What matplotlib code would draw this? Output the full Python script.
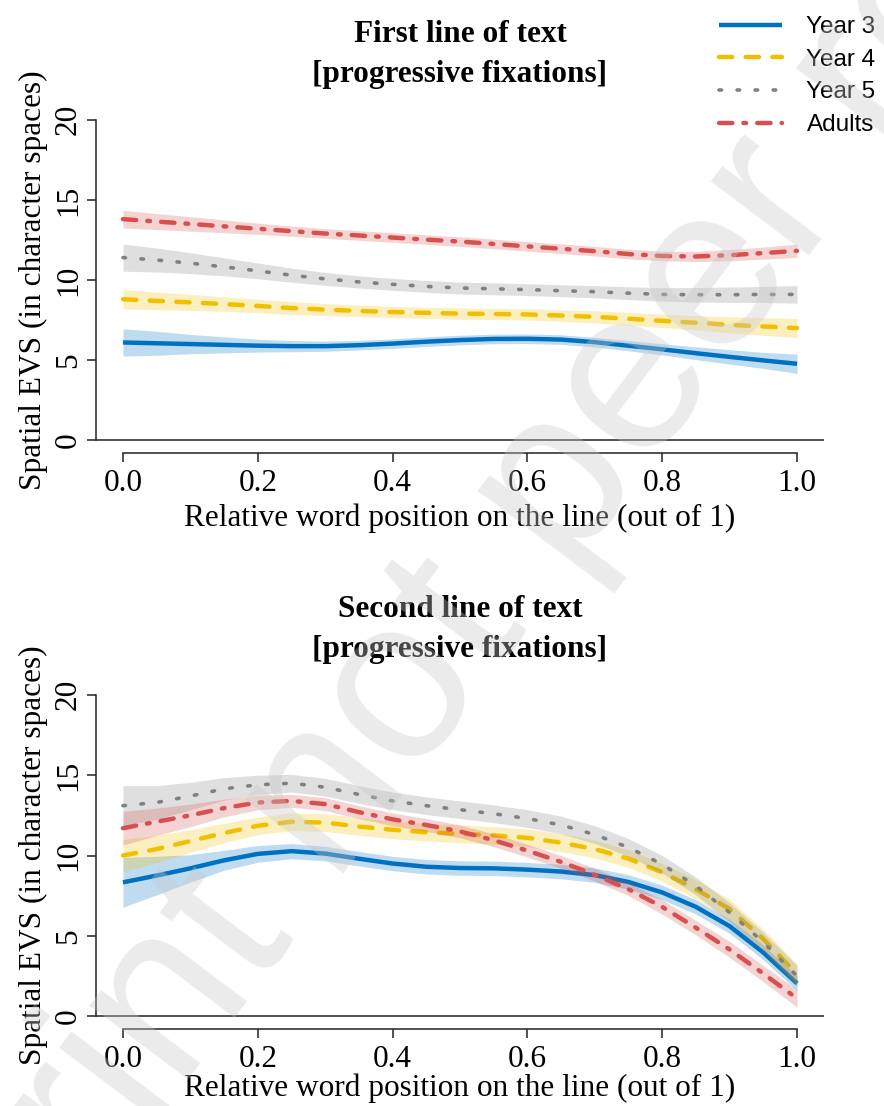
import matplotlib
matplotlib.use("Agg")
import matplotlib.pyplot as plt
import numpy as np

# relative word position on the line
pos = [0.0, 0.05, 0.1, 0.15, 0.2, 0.25, 0.3, 0.35, 0.4, 0.45, 0.5,
       0.55, 0.6, 0.65, 0.7, 0.75, 0.8, 0.85, 0.9, 0.95, 1.0]

groups = ["Year 3", "Year 4", "Year 5", "Adults"]

# first line of text: fitted spatial EVS and half-width of the band
line1_y3 = [6.1, 6.05, 6.0, 5.95, 5.9, 5.87, 5.87, 5.93, 6.03, 6.15, 6.25,
            6.32, 6.33, 6.28, 6.12, 5.9, 5.67, 5.43, 5.2, 4.98, 4.77]
line1_y3_ci = [0.85, 0.75, 0.6, 0.5, 0.4, 0.35, 0.32, 0.3, 0.3, 0.3, 0.3,
               0.3, 0.3, 0.3, 0.3, 0.32, 0.35, 0.4, 0.45, 0.5, 0.6]
line1_y4 = [8.8, 8.7, 8.6, 8.5, 8.38, 8.25, 8.15, 8.07, 8.0, 7.95, 7.9,
            7.88, 7.85, 7.78, 7.7, 7.58, 7.45, 7.33, 7.2, 7.1, 7.0]
line1_y4_ci = [0.6, 0.55, 0.5, 0.45, 0.42, 0.4, 0.38, 0.36, 0.35, 0.35, 0.35,
               0.35, 0.35, 0.36, 0.38, 0.4, 0.42, 0.45, 0.5, 0.55, 0.6]
line1_y5 = [11.4, 11.25, 11.05, 10.82, 10.57, 10.3, 10.07, 9.88, 9.73, 9.6, 9.5,
            9.45, 9.4, 9.33, 9.27, 9.18, 9.1, 9.08, 9.08, 9.1, 9.1]
line1_y5_ci = [0.85, 0.75, 0.65, 0.56, 0.49, 0.44, 0.4, 0.38, 0.37, 0.37, 0.37,
               0.37, 0.37, 0.37, 0.38, 0.4, 0.42, 0.45, 0.48, 0.5, 0.55]
line1_ad = [13.8, 13.65, 13.5, 13.35, 13.2, 13.05, 12.9, 12.78, 12.65, 12.52, 12.4,
            12.25, 12.1, 11.95, 11.8, 11.62, 11.5, 11.47, 11.55, 11.68, 11.82]
line1_ad_ci = [0.55, 0.5, 0.45, 0.4, 0.35, 0.32, 0.3, 0.3, 0.3, 0.3, 0.3,
               0.3, 0.3, 0.3, 0.3, 0.3, 0.3, 0.32, 0.35, 0.38, 0.42]

# second line of text
line2_y3 = [8.33, 8.75, 9.2, 9.7, 10.1, 10.27, 10.12, 9.8, 9.5, 9.3, 9.22,
            9.2, 9.12, 9.0, 8.78, 8.35, 7.7, 6.8, 5.6, 3.96, 2.04]
line2_y3_ci = [1.55, 1.2, 0.85, 0.62, 0.52, 0.47, 0.45, 0.45, 0.45, 0.45, 0.45,
               0.45, 0.45, 0.45, 0.45, 0.45, 0.45, 0.45, 0.45, 0.45, 0.45]
line2_y4 = [10.0, 10.4, 10.9, 11.4, 11.85, 12.1, 12.05, 11.8, 11.6, 11.45, 11.35,
            11.25, 11.1, 10.8, 10.4, 9.8, 8.95, 7.9, 6.67, 4.8, 2.6]
line2_y4_ci = [1.0, 0.85, 0.7, 0.6, 0.55, 0.55, 0.55, 0.55, 0.55, 0.55, 0.55,
               0.55, 0.55, 0.55, 0.55, 0.55, 0.55, 0.6, 0.6, 0.6, 0.65]
line2_y5 = [13.1, 13.3, 13.7, 14.15, 14.4, 14.5, 14.25, 13.8, 13.4, 13.1, 12.85,
            12.6, 12.3, 11.9, 11.3, 10.5, 9.45, 8.1, 6.45, 4.6, 2.5]
line2_y5_ci = [1.25, 1.05, 0.85, 0.7, 0.6, 0.55, 0.55, 0.55, 0.55, 0.55, 0.55,
               0.55, 0.55, 0.55, 0.55, 0.55, 0.55, 0.55, 0.6, 0.6, 0.65]
line2_ad = [11.7, 12.1, 12.5, 12.95, 13.3, 13.4, 13.2, 12.7, 12.25, 11.9, 11.5,
            10.95, 10.3, 9.6, 8.8, 7.9, 6.8, 5.5, 4.15, 2.65, 1.1]
line2_ad_ci = [1.05, 0.85, 0.7, 0.55, 0.45, 0.4, 0.4, 0.4, 0.4, 0.4, 0.4,
               0.4, 0.4, 0.4, 0.4, 0.4, 0.45, 0.45, 0.5, 0.5, 0.55]

xticks = [0.0, 0.2, 0.4, 0.6, 0.8, 1.0]
yticks = [0, 5, 10, 15, 20]

colors = ["#0070C0", "#F0C000", "#808080", "#D65050"]
styles = [dict(lw=3.2, ls="-"),
          dict(lw=3.2, dashes=(3, 3)),
          dict(lw=2.6, dashes=(0.7, 4.3)),
          dict(lw=3.2, dashes=(3, 2.5, 0.6, 2.5))]

serif = "Liberation Serif"
fs = 22.5


def panel(ax, title, series, xpad):
    x = np.array(pos)
    handles = []
    for k, (y, ci) in enumerate(series):
        y = np.array(y)
        ci = np.array(ci)
        ax.fill_between(x, y - ci, y + ci, color=colors[k], alpha=0.25, lw=0,
                        zorder=2 + 2 * k)
        h, = ax.plot(x, y, color=colors[k], zorder=3 + 2 * k,
                     solid_capstyle="butt", dash_capstyle="round", **styles[k])
        handles.append(h)
    ax.set_xlim(-0.04, 1.04)
    ax.set_ylim(-0.8, 20.8)
    ax.axhline(0, color="#222222", lw=1.1, zorder=1)
    for s in ["top", "right"]:
        ax.spines[s].set_visible(False)
    ax.spines["left"].set_bounds(0, 20)
    ax.spines["bottom"].set_bounds(0, 1)
    for s in ["left", "bottom"]:
        ax.spines[s].set_linewidth(1.1)
        ax.spines[s].set_color("#222222")
    ax.set_xticks(xticks)
    ax.set_xticklabels(["%.1f" % t for t in xticks], family=serif, fontsize=fs)
    ax.set_yticks(yticks)
    ax.set_yticklabels([str(t) for t in yticks], family=serif, fontsize=fs,
                       rotation=90, va="center")
    ax.tick_params(axis="both", length=6.5, width=1.1, color="#222222")
    ax.tick_params(axis="x", pad=5)
    ax.tick_params(axis="y", pad=3)
    ax.set_xlabel("Relative word position on the line (out of 1)",
                  family=serif, fontsize=fs, labelpad=xpad)
    ax.set_ylabel("Spatial EVS (in character spaces)", family=serif,
                  fontsize=fs, labelpad=4)
    ax.set_title(title, family=serif, fontsize=fs, fontweight="bold",
                 pad=18, linespacing=1.48)
    return handles


fig = plt.figure(figsize=(8.84, 11.06), dpi=100)
ax1 = fig.add_axes([96 / 884, 1 - 453 / 1106, 728 / 884, 346 / 1106])
ax2 = fig.add_axes([96 / 884, 1 - 1029 / 1106, 728 / 884, 347 / 1106])

hs = panel(ax1, "First line of text\n[progressive fixations]",
           [(line1_y3, line1_y3_ci), (line1_y4, line1_y4_ci),
            (line1_y5, line1_y5_ci), (line1_ad, line1_ad_ci)], 4)
panel(ax2, "Second line of text\n[progressive fixations]",
      [(line2_y3, line2_y3_ci), (line2_y4, line2_y4_ci),
       (line2_y5, line2_y5_ci), (line2_ad, line2_ad_ci)], 0)

fig.legend(hs, groups, loc="upper left", bbox_to_anchor=(719 / 884, 1 - 16 / 1106),
           frameon=False, prop=dict(family="Liberation Sans", size=17.5),
           handlelength=2.6, handletextpad=1.0, labelspacing=0.44,
           borderpad=0, borderaxespad=0)

# watermark
fig.text(0.708, 0.548, "Preprint not peer reviewed", rotation=53,
         rotation_mode="anchor", ha="center", va="baseline", fontsize=167,
         family="Liberation Sans", color="#C8C8C8", alpha=0.36, zorder=20)

fig.savefig("out.png", dpi=100)
